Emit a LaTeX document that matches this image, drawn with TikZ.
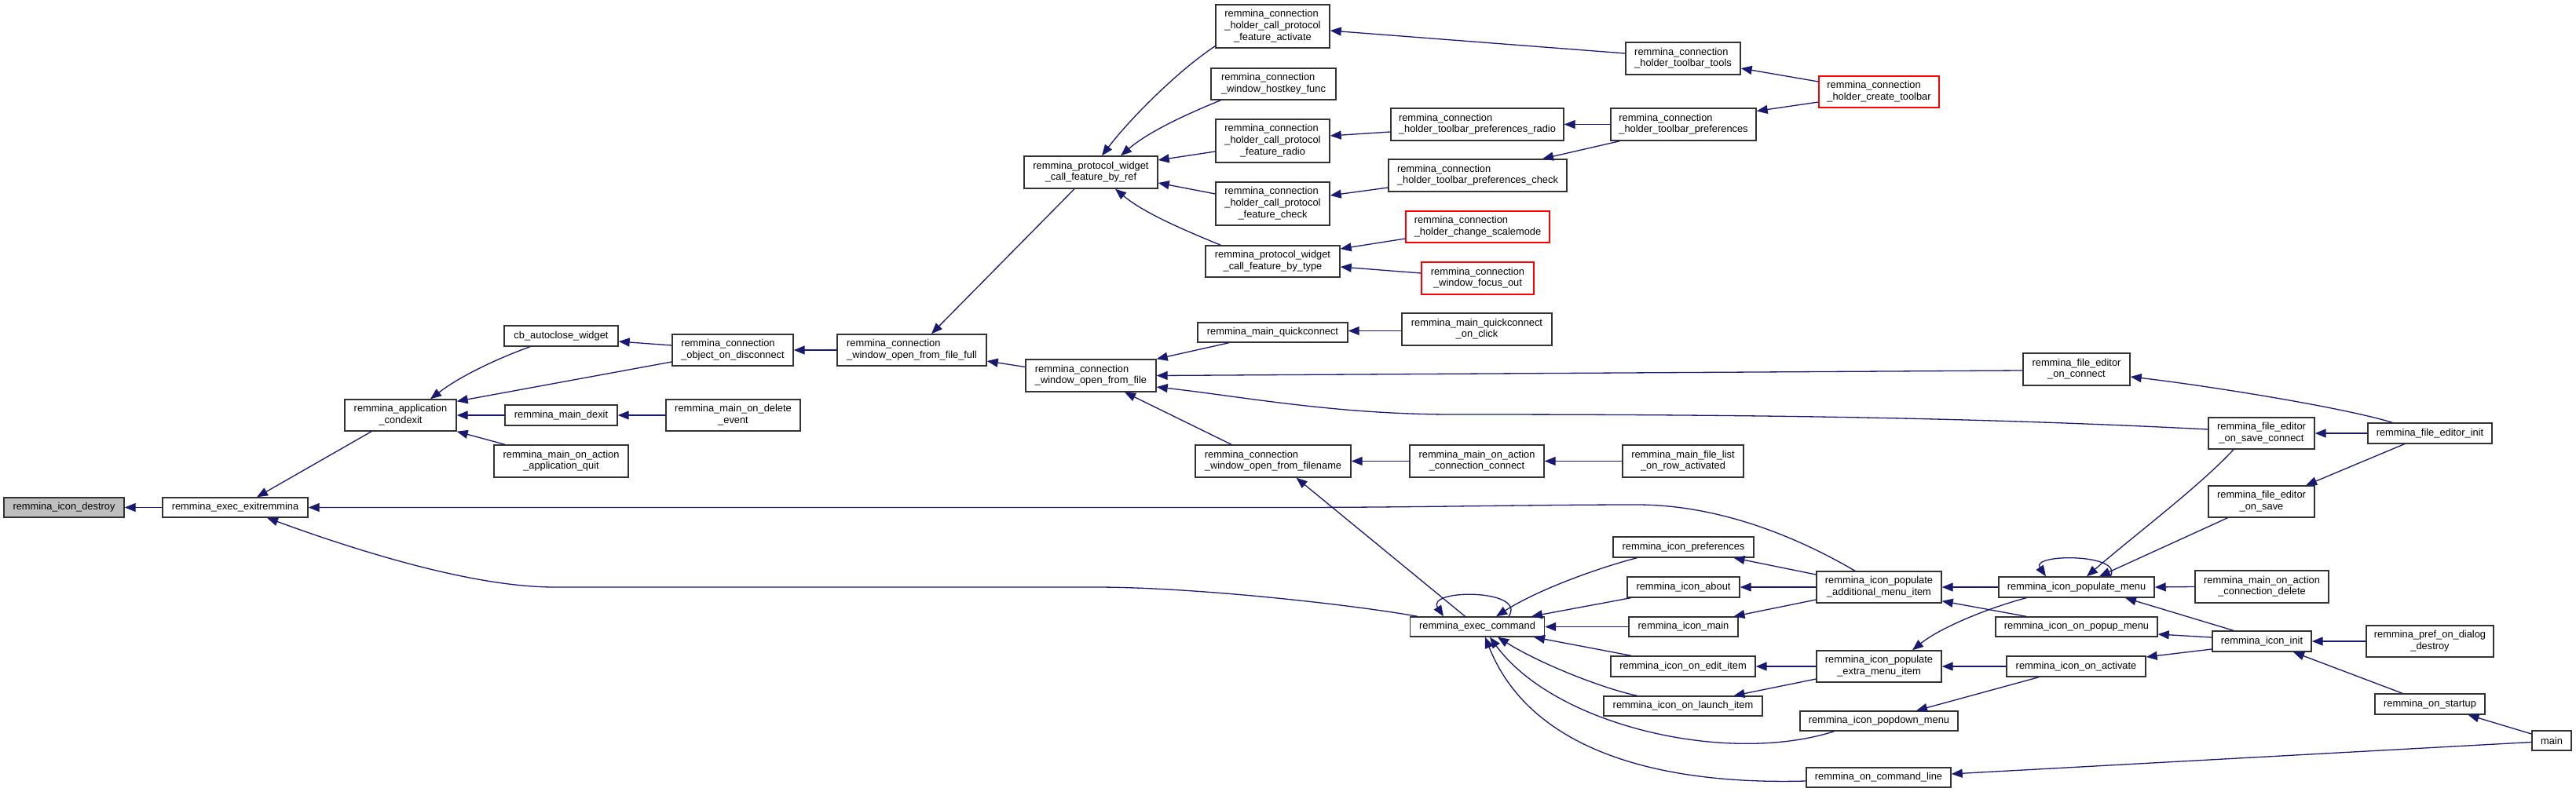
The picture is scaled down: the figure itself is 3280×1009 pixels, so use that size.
\documentclass[tikz,border=0pt]{standalone}
\usepackage{fontspec}
\setmainfont{Liberation Sans}
\usetikzlibrary{arrows.meta}
\definecolor{edgec}{HTML}{191970}
\newcommand{\gfont}{\fontsize{12.85}{14.6}\selectfont}
\newcommand{\twoln}[2]{\begin{tabular}{@{}l@{}}#1\\\multicolumn{1}{@{}c@{}}{#2}\end{tabular}}
\newcommand{\threeln}[3]{\begin{tabular}{@{}l@{}}#1\\#2\\\multicolumn{1}{@{}c@{}}{#3}\end{tabular}}
\tikzset{
  box/.style={draw=black!80, line width=1.4pt, fill=white, inner sep=0pt, font=\gfont},
  redbox/.style={box, draw=red},
  graybox/.style={box, fill=black!25},
  edge/.style={draw=edgec, line width=1.3pt, -{Triangle[length=14pt,width=11pt]}}
}
\begin{document}
\begin{tikzpicture}[x=1pt,y=1pt]
\fill[white] (0,0) rectangle (3280,-1009);
\useasboundingbox (0,0) rectangle (3280,-1009);

% nodes
\node[graybox, minimum width=153pt, minimum height=25pt] (destroy) at (81.5,-646.5) {remmina\_icon\_destroy};
\node[box, minimum width=185pt, minimum height=25pt] (exit) at (299.5,-646.5) {remmina\_exec\_exitremmina};
\node[box, minimum width=142pt, minimum height=40pt] (cond) at (510,-529) {\twoln{remmina\_application}{\_condexit}};
\node[box, minimum width=145pt, minimum height=26pt] (cb) at (714.5,-428) {cb\_autoclose\_widget};
\node[box, minimum width=143pt, minimum height=26pt] (dexit) at (714.5,-529) {remmina\_main\_dexit};
\node[box, minimum width=171pt, minimum height=41pt] (quit) at (714.5,-587.5) {\twoln{remmina\_main\_on\_action}{\_application\_quit}};
\node[box, minimum width=154pt, minimum height=40pt] (disc) at (933,-446) {\twoln{remmina\_connection}{\_object\_on\_disconnect}};
\node[box, minimum width=171pt, minimum height=40pt] (del) at (933.5,-529) {\twoln{remmina\_main\_on\_delete}{\_event}};
\node[box, minimum width=190pt, minimum height=40pt] (full) at (1161,-446) {\twoln{remmina\_connection}{\_window\_open\_from\_file\_full}};
\node[box, minimum width=170pt, minimum height=41pt] (ref) at (1389,-219.5) {\twoln{remmina\_protocol\_widget}{\_call\_feature\_by\_ref}};
\node[box, minimum width=166pt, minimum height=41pt] (off) at (1389,-478.5) {\twoln{remmina\_connection}{\_window\_open\_from\_file}};
\node[box, minimum width=145pt, minimum height=55pt] (fact) at (1620.5,-33.5) {\threeln{remmina\_connection}{\_holder\_call\_protocol}{\_feature\_activate}};
\node[box, minimum width=159pt, minimum height=40pt] (hk) at (1621.5,-107) {\twoln{remmina\_connection}{\_window\_hostkey\_func}};
\node[box, minimum width=145pt, minimum height=55pt] (frad) at (1620.5,-179.5) {\threeln{remmina\_connection}{\_holder\_call\_protocol}{\_feature\_radio}};
\node[box, minimum width=145pt, minimum height=55pt] (fchk) at (1620.5,-259.5) {\threeln{remmina\_connection}{\_holder\_call\_protocol}{\_feature\_check}};
\node[box, minimum width=171pt, minimum height=40pt] (btype) at (1620.5,-333) {\twoln{remmina\_protocol\_widget}{\_call\_feature\_by\_type}};
\node[box, minimum width=191pt, minimum height=25pt] (mq) at (1620.5,-423.5) {remmina\_main\_quickconnect};
\node[box, minimum width=198pt, minimum height=41pt] (fn) at (1621,-587.5) {\twoln{remmina\_connection}{\_window\_open\_from\_filename}};
\node[box, minimum width=146pt, minimum height=41pt] (tools) at (2143,-74.5) {\twoln{remmina\_connection}{\_holder\_toolbar\_tools}};
\node[redbox, minimum width=153pt, minimum height=40pt] (ctb) at (2392.5,-117) {\twoln{remmina\_connection}{\_holder\_create\_toolbar}};
\node[box, minimum width=220pt, minimum height=41pt] (prad) at (1881,-158.5) {\twoln{remmina\_connection}{\_holder\_toolbar\_preferences\_radio}};
\node[box, minimum width=185pt, minimum height=41pt] (tp) at (2143.5,-158.5) {\twoln{remmina\_connection}{\_holder\_toolbar\_preferences}};
\node[box, minimum width=227pt, minimum height=41pt] (pchk) at (1881.5,-223.5) {\twoln{remmina\_connection}{\_holder\_toolbar\_preferences\_check}};
\node[redbox, minimum width=183pt, minimum height=40pt] (scm) at (1881.5,-289) {\twoln{remmina\_connection}{\_holder\_change\_scalemode}};
\node[redbox, minimum width=143pt, minimum height=41pt] (fo) at (1881.5,-354.5) {\twoln{remmina\_connection}{\_window\_focus\_out}};
\node[box, minimum width=191pt, minimum height=41pt] (qoc) at (1880.5,-419.5) {\twoln{remmina\_main\_quickconnect}{\_on\_click}};
\node[box, minimum width=171pt, minimum height=41pt] (cc) at (1880.5,-587.5) {\twoln{remmina\_main\_on\_action}{\_connection\_connect}};
\node[box, minimum width=154pt, minimum height=41pt] (ra) at (2143,-587.5) {\twoln{remmina\_main\_file\_list}{\_on\_row\_activated}};
\node[box, minimum width=136pt, minimum height=41pt] (oc) at (2644,-470.5) {\twoln{remmina\_file\_editor}{\_on\_connect}};
\node[box, minimum width=171pt, minimum height=25pt] (exec) at (1881,-798.5) {remmina\_exec\_command};
\node[box, minimum width=179pt, minimum height=26pt] (ipref) at (2143.5,-697) {remmina\_icon\_preferences};
\node[box, minimum width=143pt, minimum height=26pt] (about) at (2143.5,-748) {remmina\_icon\_about};
\node[box, minimum width=139pt, minimum height=25pt] (imain) at (2143.5,-798.5) {remmina\_icon\_main};
\node[box, minimum width=184pt, minimum height=26pt] (edit) at (2143,-849) {remmina\_icon\_on\_edit\_item};
\node[box, minimum width=202pt, minimum height=25pt] (launch) at (2143,-899.5) {remmina\_icon\_on\_launch\_item};
\node[box, minimum width=159pt, minimum height=40pt] (pam) at (2392.5,-748) {\twoln{remmina\_icon\_populate}{\_additional\_menu\_item}};
\node[box, minimum width=159pt, minimum height=40pt] (extra) at (2392.5,-849) {\twoln{remmina\_icon\_populate}{\_extra\_menu\_item}};
\node[box, minimum width=201pt, minimum height=25pt] (pdm) at (2392.5,-918.5) {remmina\_icon\_popdown\_menu};
\node[box, minimum width=184pt, minimum height=25pt] (ocl) at (2392,-990.5) {remmina\_on\_command\_line};
\node[box, minimum width=135pt, minimum height=40pt] (sc) at (2879.5,-552) {\twoln{remmina\_file\_editor}{\_on\_save\_connect}};
\node[box, minimum width=158pt, minimum height=26pt] (fei) at (3094,-552) {remmina\_file\_editor\_init};
\node[box, minimum width=135pt, minimum height=40pt] (os) at (2879.5,-639) {\twoln{remmina\_file\_editor}{\_on\_save}};
\node[box, minimum width=198pt, minimum height=26pt] (pm) at (2644,-748) {remmina\_icon\_populate\_menu};
\node[box, minimum width=170pt, minimum height=41pt] (cd) at (2880,-747.5) {\twoln{remmina\_main\_on\_action}{\_connection\_delete}};
\node[box, minimum width=206pt, minimum height=25pt] (pop) at (2644,-798.5) {remmina\_icon\_on\_popup\_menu};
\node[box, minimum width=126pt, minimum height=26pt] (init) at (2880,-817) {remmina\_icon\_init};
\node[box, minimum width=162pt, minimum height=40pt] (pd) at (3094,-817) {\twoln{remmina\_pref\_on\_dialog}{\_destroy}};
\node[box, minimum width=177pt, minimum height=26pt] (act) at (2643.5,-849) {remmina\_icon\_on\_activate};
\node[box, minimum width=140pt, minimum height=26pt] (st) at (3094,-897) {remmina\_on\_startup};
\node[box, minimum width=50pt, minimum height=25pt] (main) at (3249,-943.5) {main};

% edges (caller -> callee, arrow at callee)
\draw[edge] (exit.west) -- (destroy.east);
\draw[edge] ([xshift=-37pt]cond.south) -- ([xshift=27.5pt]exit.north);
\draw[edge] ([xshift=-30.5pt]pam.north) .. controls (2290,-685) and (2190,-643) .. (2084,-643) .. controls (1950,-643) and (1800,-646.5) .. (1640,-646.5) -- (exit.east);
\draw[edge] ([xshift=-76pt]exec.north) .. controls (1720,-770) and (1520,-748) .. (1395,-748) -- (706,-748) .. controls (600,-748) and (450,-700) .. ([xshift=40.5pt]exit.south);
\draw[edge] ([xshift=-39.5pt]cb.south) .. controls (630,-458) and (585,-480) .. ([xshift=38pt]cond.north);
\draw[edge] ([yshift=-15pt]disc.west) -- ([yshift=-3pt]cond.north east);
\draw[edge] (dexit.west) -- (cond.east);
\draw[edge] ([xshift=-71.5pt]quit.north) -- (cond.south east);
\draw[edge] ([yshift=6pt]disc.west) -- ([yshift=-7pt]cb.east);
\draw[edge] (del.west) -- (dexit.east);
\draw[edge] (full.west) -- (disc.east);
\draw[edge] ([xshift=-21pt]ref.south) -- ([xshift=25pt]full.north);
\draw[edge] ([yshift=11pt]off.west) -- ([yshift=-14pt]full.east);
\draw[edge] ([yshift=3pt]fact.south west) .. controls (1500,-90) and (1440,-150) .. ([xshift=14pt]ref.north);
\draw[edge] ([xshift=13pt]hk.south west) .. controls (1500,-150) and (1460,-170) .. ([xshift=38pt]ref.north);
\draw[edge] ([yshift=-13.5pt]frad.west) -- ([yshift=15.5pt]ref.east);
\draw[edge] ([yshift=12.5pt]fchk.west) -- ([yshift=-13.5pt]ref.east);
\draw[edge] ([xshift=20pt]btype.north west) .. controls (1500,-290) and (1455,-270) .. ([xshift=31pt]ref.south);
\draw[edge] ([yshift=6.5pt]tools.west) -- ([yshift=-5.5pt]fact.east);
\draw[edge] ([yshift=13pt]ctb.west) -- ([yshift=-12.5pt]tools.east);
\draw[edge] ([yshift=-9.5pt]prad.west) -- ([yshift=6.5pt]frad.east);
\draw[edge] (tp.west) -- (prad.east);
\draw[edge] ([xshift=-81pt]tp.south) -- ([xshift=82.5pt]pchk.north);
\draw[edge] ([yshift=-13pt]ctb.west) -- ([yshift=17pt]tp.east);
\draw[edge] ([yshift=-15.5pt]pchk.west) -- ([yshift=10.5pt]fchk.east);
\draw[edge] ([yshift=-15pt]scm.west) -- ([yshift=16pt]btype.east);
\draw[edge] ([yshift=6.5pt]fo.west) -- ([yshift=-7pt]btype.east);
\draw[edge] ([xshift=-55.5pt]mq.south) -- (off.north east);
\draw[edge] ([yshift=-2pt]qoc.west) -- ([yshift=2pt]mq.east);
\draw[edge] ([yshift=-1.5pt]oc.west) -- (off.east);
\draw[edge] ([yshift=5pt]sc.west) .. controls (2500,-531) and (2200,-528) .. (1850,-528) .. controls (1700,-528) and (1580,-505) .. ([yshift=-14.5pt]off.east);
\draw[edge] ([xshift=-53pt]fn.north) -- ([xshift=43pt]off.south);
\draw[edge] ([xshift=-48pt]fei.north) .. controls (2980,-518) and (2800,-490) .. ([yshift=-9.5pt]oc.east);
\draw[edge] (fei.west) -- (sc.east);
\draw[edge] ([xshift=-32.5pt]fei.south) -- ([xshift=56.5pt]os.north);
\draw[edge] (cc.west) -- (fn.east);
\draw[edge] (ra.west) -- (cc.east);
\draw[edge] ([xshift=-15.5pt]exec.north) -- ([xshift=29.5pt]fn.south);
\draw[edge] ([xshift=40pt]exec.north) .. controls (1945,-750) and (1815,-750) .. ([xshift=-43pt]exec.north);
\draw[edge] ([xshift=-59pt]ipref.south) .. controls (2040,-722) and (1960,-750) .. ([xshift=24pt]exec.north);
\draw[edge] ([xshift=-67pt]about.south) -- ([xshift=69pt]exec.north);
\draw[edge] (imain.west) -- (exec.east);
\draw[edge] ([xshift=-66pt]edit.north) -- ([xshift=72pt]exec.south);
\draw[edge] ([xshift=-58.5pt]launch.north) .. controls (2040,-877) and (1960,-845) .. ([xshift=26pt]exec.south);
\draw[edge] ([xshift=-57pt]pdm.south) .. controls (2200,-975) and (1980,-925) .. ([xshift=16pt]exec.south);
\draw[edge] ([yshift=-4.5pt]ocl.west) .. controls (2120,-1000) and (1950,-960) .. ([xshift=10pt]exec.south);
\draw[edge] ([yshift=16pt]pam.west) -- ([xshift=64pt]ipref.south);
\draw[edge] (pam.west) -- (about.east);
\draw[edge] ([yshift=-16pt]pam.west) -- ([xshift=64pt]imain.north);
\draw[edge] (extra.west) -- (edit.east);
\draw[edge] ([yshift=-16pt]extra.west) -- ([xshift=64.5pt]launch.north);
\draw[edge] (pm.west) -- (pam.east);
\draw[edge] ([xshift=-64pt]pop.north) -- ([yshift=3pt]pam.south east);
\draw[edge] ([xshift=-64pt]pm.south) .. controls (2530,-775) and (2470,-800) .. ([xshift=42.5pt]extra.north);
\draw[edge] (act.west) -- (extra.east);
\draw[edge] ([xshift=-47.5pt]act.south) -- ([xshift=47.5pt]pdm.north);
\draw[edge] ([xshift=43pt]pm.north) .. controls (2705,-705) and (2585,-705) .. ([xshift=-39pt]pm.north);
\draw[edge] ([xshift=-35.5pt]sc.south) .. controls (2800,-620) and (2720,-680) .. ([xshift=13pt]pm.north);
\draw[edge] ([xshift=-43pt]os.south) -- ([xshift=29pt]pm.north);
\draw[edge] (cd.west) -- (pm.east);
\draw[edge] ([xshift=-36pt]init.north) -- ([xshift=62pt]pm.south);
\draw[edge] ([yshift=5pt]init.west) -- ([yshift=-9.5pt]pop.east);
\draw[edge] ([yshift=-10pt]init.west) -- ([yshift=12pt]act.east);
\draw[edge] (pd.west) -- (init.east);
\draw[edge] ([xshift=-35pt]st.north) -- ([xshift=40pt]init.south);
\draw[edge] ([yshift=8.5pt]main.west) -- ([xshift=48.5pt]st.south);
\draw[edge] ([yshift=-2pt]main.west) -- ([yshift=4.5pt]ocl.east);
\end{tikzpicture}
\end{document}
